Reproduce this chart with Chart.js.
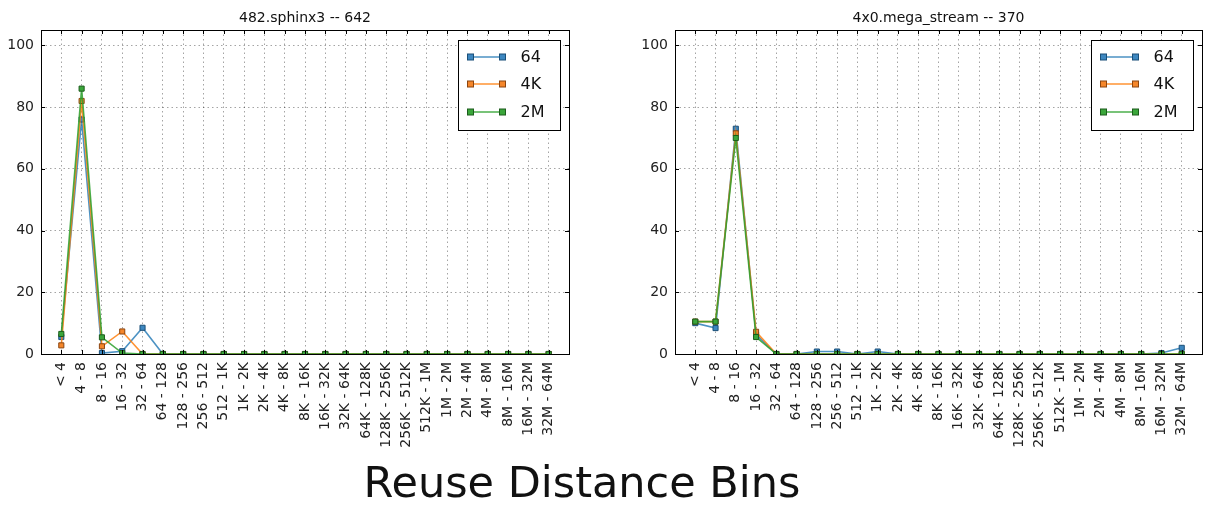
<!DOCTYPE html>
<html>
<head>
<meta charset="utf-8">
<script src="https://cdn.jsdelivr.net/npm/chart.js@4.4.1/dist/chart.umd.min.js"></script>
<style>
  body { margin: 0; background: #fff; width: 1207px; height: 508px; position: relative; overflow: hidden; }
  canvas { position: absolute; top: 0; }
  #c1 { left: 0; }
  #c2 { left: 600px; }
  #xtitle { position: absolute; left: 0; width: 1164px; top: 461px; text-align: center;
    font-family: "DejaVu Sans"; font-size: 43px; line-height: 43px; color: #111; }
</style>
</head>
<body>
<canvas id="c1" width="600" height="508"></canvas>
<canvas id="c2" width="607" height="508"></canvas>
<div id="xtitle">Reuse Distance Bins</div>
<script>
// reuse distance bins (x axis)
const bins = ["< 4", "4 - 8", "8 - 16", "16 - 32", "32 - 64", "64 - 128", "128 - 256", "256 - 512",
  "512 - 1K", "1K - 2K", "2K - 4K", "4K - 8K", "8K - 16K", "16K - 32K", "32K - 64K", "64K - 128K",
  "128K - 256K", "256K - 512K", "512K - 1M", "1M - 2M", "2M - 4M", "4M - 8M", "8M - 16M",
  "16M - 32M", "32M - 64M"];
const yTicks = [0, 20, 40, 60, 80, 100];
const seriesNames = ["64", "4K", "2M"];

// 482.sphinx3 -- 642
const sphinx64 = [5.5, 76, 0.3, 0.9, 8.5, 0, 0, 0, 0, 0, 0, 0, 0, 0, 0, 0, 0, 0, 0, 0, 0, 0, 0, 0, 0];
const sphinx4K = [2.8, 82, 2.5, 7.3, 0, 0, 0, 0, 0, 0, 0, 0, 0, 0, 0, 0, 0, 0, 0, 0, 0, 0, 0, 0, 0];
const sphinx2M = [6.5, 86, 5.4, 0.3, 0, 0, 0, 0, 0, 0, 0, 0, 0, 0, 0, 0, 0, 0, 0, 0, 0, 0, 0, 0, 0];

// 4x0.mega_stream -- 370
const mega64 = [10, 8.4, 73, 6.3, 0, 0, 0.8, 0.8, 0, 0.8, 0, 0, 0, 0, 0, 0, 0, 0, 0, 0, 0, 0, 0, 0.3, 2];
const mega4K = [10.5, 10.5, 71.5, 7.2, 0, 0, 0, 0, 0, 0, 0, 0, 0, 0, 0, 0, 0, 0, 0, 0, 0, 0, 0, 0, 0];
const mega2M = [10.5, 10.5, 70, 5.5, 0, 0, 0, 0, 0, 0, 0, 0, 0, 0, 0, 0, 0, 0, 0, 0, 0, 0, 0, 0, 0];

const lineColors = ["rgba(31,119,180,0.8)", "rgba(255,127,14,0.85)", "rgba(44,160,44,0.85)"];
const markColors = ["#3d87c0", "#f5862a", "#3aa63a"];
const edgeColors = ["#1a4f78", "#8a4510", "#1c5c1c"];

const FONT = '"DejaVu Sans", sans-serif';

// frame, inward ticks, title and legend in matplotlib style
const framePlugin = {
  id: 'frame',
  afterDraw(chart, args, opts) {
    const ctx = chart.ctx;
    const a = chart.chartArea;
    const xs = chart.scales.x, ys = chart.scales.y;
    ctx.save();
    ctx.strokeStyle = '#000';
    ctx.lineWidth = 1;
    ctx.beginPath();
    for (let i = 0; i < bins.length; i++) {
      const px = Math.round(xs.getPixelForValue(i)) + 0.5;
      ctx.moveTo(px, a.bottom); ctx.lineTo(px, a.bottom - 4);
      ctx.moveTo(px, a.top); ctx.lineTo(px, a.top + 4);
    }
    yTicks.forEach(v => {
      const py = Math.round(ys.getPixelForValue(v)) + 0.5;
      ctx.moveTo(a.left, py); ctx.lineTo(a.left + 4, py);
      ctx.moveTo(a.right, py); ctx.lineTo(a.right - 4, py);
    });
    ctx.stroke();
    ctx.strokeRect(Math.round(a.left) + 0.5, Math.round(a.top) + 0.5,
      Math.round(a.right - a.left), Math.round(a.bottom - a.top));

    // title
    ctx.fillStyle = '#111';
    ctx.font = '14px ' + FONT;
    ctx.textAlign = 'center';
    ctx.textBaseline = 'alphabetic';
    ctx.fillText(opts.title, (a.left + a.right) / 2, a.top - 8);

    // legend
    const w = 102, h = 90;
    const bx = Math.round(a.right - 9 - w) + 0.5, by = Math.round(a.top + 10) + 0.5;
    ctx.fillStyle = '#fff';
    ctx.fillRect(bx, by, w, h);
    ctx.strokeStyle = '#000';
    ctx.strokeRect(bx, by, w, h);
    chart.data.datasets.forEach((ds, k) => {
      const ry = Math.round(by + 16 + 27.5 * k);
      const x1 = bx + 12, x2 = bx + 44;
      ctx.strokeStyle = ds.borderColor;
      ctx.lineWidth = 1.5;
      ctx.beginPath(); ctx.moveTo(x1, ry); ctx.lineTo(x2, ry); ctx.stroke();
      ctx.lineWidth = 1;
      [x1, x2].forEach(mx => {
        ctx.fillStyle = ds.pointBackgroundColor;
        ctx.strokeStyle = ds.pointBorderColor;
        ctx.fillRect(mx - 3, ry - 3, 6, 6);
        ctx.strokeRect(mx - 3, ry - 3, 6, 6);
      });
      ctx.fillStyle = '#111';
      ctx.font = '16px ' + FONT;
      ctx.textAlign = 'left';
      ctx.textBaseline = 'middle';
      ctx.fillText(ds.label, bx + 62, ry + 1);
    });
    ctx.restore();
  }
};

function makeDatasets(lists) {
  return lists.map((vals, k) => ({
    label: seriesNames[k],
    data: vals.map((v, i) => ({ x: i, y: v })),
    borderColor: lineColors[k],
    borderWidth: 1.6,
    pointStyle: 'rect',
    pointRadius: 3.6,
    pointBackgroundColor: markColors[k],
    pointBorderColor: edgeColors[k],
    pointBorderWidth: 1,
    tension: 0,
    order: 2 - k
  }));
}

function makeChart(id, title, lists, yWidth, padRight) {
  return new Chart(document.getElementById(id), {
    type: 'line',
    data: { datasets: makeDatasets(lists) },
    plugins: [framePlugin],
    options: {
      responsive: false,
      animation: false,
      layout: { padding: { left: 0, top: 30, right: padRight, bottom: 0 } },
      plugins: {
        legend: { display: false },
        tooltip: { enabled: false },
        frame: { title: title }
      },
      scales: {
        x: {
          type: 'linear',
          min: -1,
          max: 25,
          afterFit: (s) => { s.height = 154; },
          afterBuildTicks: (s) => {
            s.ticks = bins.map((b, i) => ({ value: i }));
          },
          ticks: {
            autoSkip: false,
            maxRotation: 90,
            minRotation: 90,
            padding: 8,
            color: '#222',
            font: { family: FONT, size: 14 },
            callback: (v) => bins[v] !== undefined ? bins[v] : ''
          },
          grid: { color: 'rgba(0,0,0,0.45)', lineWidth: 0.8, drawTicks: false },
          border: { display: false, dash: [1.5, 3] }
        },
        y: {
          min: 0,
          max: 105,
          afterFit: (s) => { s.width = yWidth; },
          afterBuildTicks: (s) => {
            s.ticks = yTicks.map(v => ({ value: v }));
          },
          ticks: {
            padding: 7,
            color: '#222',
            font: { family: FONT, size: 14 }
          },
          grid: { color: 'rgba(0,0,0,0.45)', lineWidth: 0.8, drawTicks: false },
          border: { display: false, dash: [1.5, 3] }
        }
      }
    }
  });
}

makeChart('c1', '482.sphinx3 -- 642', [sphinx64, sphinx4K, sphinx2M], 41, 31);
makeChart('c2', '4x0.mega_stream -- 370', [mega64, mega4K, mega2M], 75, 4);
</script>
</body>
</html>
